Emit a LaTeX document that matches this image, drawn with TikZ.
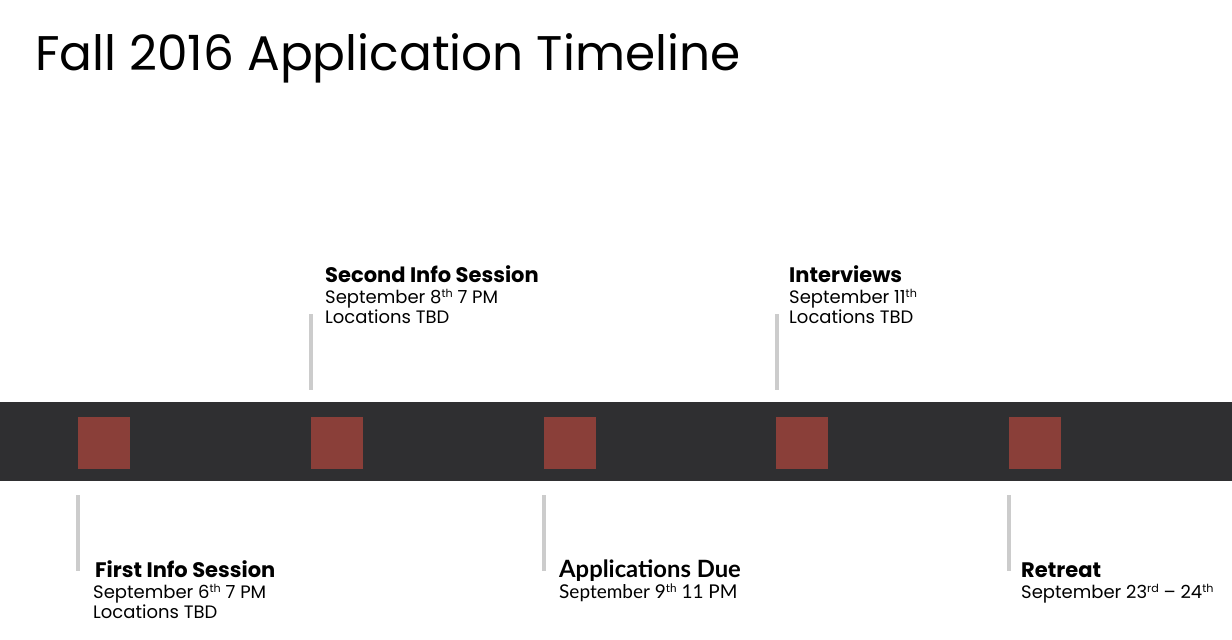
\documentclass[tikz,border=0pt]{standalone}
\usepackage{fontspec}
\setmainfont{Poppins}
\newfontfamily\avfont{Lato}
% small raised ordinal suffix
\newcommand{\ordsfx}[1]{\raisebox{0.55ex}{\scalebox{0.62}{#1}}}
\begin{document}
\begin{tikzpicture}[x=1pt,y=-1pt,
  band/.style={fill=bandgray,draw=none},
  marker/.style={fill=markred,draw=none,minimum size=52pt,inner sep=0pt},
  tick/.style={draw=tickgray,line width=4pt},
  head/.style={anchor=base west,inner sep=0pt,font=\fontsize{21}{24}\selectfont\bfseries},
  detail/.style={anchor=base west,inner sep=0pt,font=\fontsize{18}{20}\selectfont}]
\definecolor{bandgray}{HTML}{2F2F31}
\definecolor{markred}{HTML}{8A3F39}
\definecolor{tickgray}{HTML}{CCCCCC}
\useasboundingbox (0,0) rectangle (1232,640);
\fill[white] (0,0) rectangle (1232,640);
% title
\node[anchor=base west,inner sep=0pt,font=\fontsize{48.6}{56}\selectfont] (title) at (35,70) {Fall 2016 Application Timeline};
% timeline band
\fill[band] (0,402) rectangle (1232,481);
% event markers
\node[marker] (m1) at (104,442.5) {};
\node[marker] (m2) at (337,442.5) {};
\node[marker] (m3) at (570,442.5) {};
\node[marker] (m4) at (802,442.5) {};
\node[marker] (m5) at (1035,442.5) {};
% leader ticks
\coordinate (t1a) at (78,495);  \coordinate (t1b) at (78,571);
\coordinate (t2a) at (311,314); \coordinate (t2b) at (311,390);
\coordinate (t3a) at (544,495); \coordinate (t3b) at (544,571);
\coordinate (t4a) at (777,314); \coordinate (t4b) at (777,390);
\coordinate (t5a) at (1009,495);\coordinate (t5b) at (1009,571);
\draw[tick] (t1a) -- (t1b);
\draw[tick] (t2a) -- (t2b);
\draw[tick] (t3a) -- (t3b);
\draw[tick] (t4a) -- (t4b);
\draw[tick] (t5a) -- (t5b);
% event texts
\node[head] (e1h) at (95,577) {First Info Session};
\node[detail] (e1a) at (93,598) {September 6\ordsfx{th} 7 PM};
\node[detail] (e1b) at (93,618) {Locations TBD};
\node[head] (e2h) at (325,282) {Second Info Session};
\node[detail] (e2a) at (325,303) {September 8\ordsfx{th} 7 PM};
\node[detail] (e2b) at (325,323) {Locations TBD};
\node[head,font=\fontsize{23.8}{26}\avfont\bfseries] (e3h) at (559,577) {Applications Due};
\node[detail,font=\fontsize{19}{21}\avfont] (e3a) at (559,598) {September 9\ordsfx{th} 11 PM};
\node[head] (e4h) at (789,282) {Interviews};
\node[detail] (e4a) at (789,303) {September 11\ordsfx{th}};
\node[detail] (e4b) at (789,323) {Locations TBD};
\node[head] (e5h) at (1021,577) {Retreat};
\node[detail] (e5a) at (1021,598) {September 23\ordsfx{rd} -- 24\ordsfx{th}};
\end{tikzpicture}
\end{document}
